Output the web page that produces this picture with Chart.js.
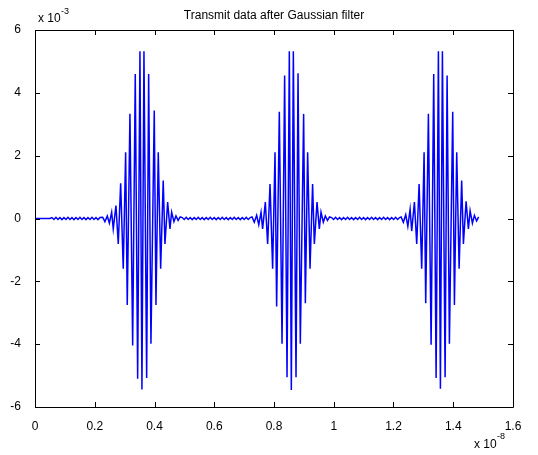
<!DOCTYPE html>
<html>
<head>
<meta charset="utf-8">
<script src="https://cdn.jsdelivr.net/npm/chart.js@4.4.0/dist/chart.umd.min.js"></script>
<style>
  body { margin: 0; background: #fff; }
  canvas { display: block; }
</style>
</head>
<body>
<canvas id="myChart" width="538" height="455"></canvas>
<script>
// 축 눈금 (x: x10^-8, y: x10^-3)
var xTicks = [0, 0.2, 0.4, 0.6, 0.8, 1, 1.2, 1.4, 1.6];
var yTicks = [-6, -4, -2, 0, 2, 4, 6];

// 각 펄스 중심 시각
var pulseCenters = [0.358, 0.858, 1.357];
// 펄스 중심 기준 극값 위치
var pulseOffsets = [-0.1315, -0.1240, -0.1160, -0.1090, -0.1014, -0.0961, -0.0870, -0.0793, -0.0713, -0.0626,
                    -0.0546, -0.0492, -0.0402, -0.0311, -0.0224, -0.0144, -0.0067, 0, 0.0067, 0.0157,
                    0.0224, 0.0301, 0.0412, 0.0469, 0.0546, 0.0626, 0.0712, 0.0770, 0.0860, 0.0937,
                    0.0994, 0.1071, 0.1138, 0.1210, 0.1280];
var pulse1 = [0.04, -0.10, 0.08, -0.15, 0.20, -0.33, 0.41, -0.81, 1.12, -1.60,
              2.11, -2.75, 3.33, -4.04, 4.60, -5.10, 5.32, -5.44, 5.32, -5.08,
              4.60, -3.99, 3.44, -2.75, 2.11, -1.60, 1.21, -0.81, 0.52, -0.33,
              0.20, -0.10, 0.08, -0.06, 0.05];
var pulse2 = [0.05, -0.12, 0.10, -0.20, 0.20, -0.33, 0.52, -0.81, 1.10, -1.60,
              2.11, -2.80, 3.40, -3.99, 4.55, -5.05, 5.32, -5.46, 5.32, -5.05,
              4.62, -3.99, 3.33, -2.70, 2.11, -1.60, 1.10, -0.81, 0.52, -0.33,
              0.20, -0.12, 0.08, -0.06, 0.05];
var pulse3 = [0.05, -0.12, 0.12, -0.25, 0.30, -0.40, 0.52, -0.81, 1.10, -1.60,
              2.11, -2.70, 3.33, -4.02, 4.60, -5.08, 5.32, -5.42, 5.32, -5.05,
              4.55, -3.99, 3.40, -2.75, 2.11, -1.60, 1.21, -0.81, 0.55, -0.33,
              0.25, -0.15, 0.10, -0.08, 0.05];
// 펄스 사이 잔물결
var rippleStart = 0.05;
var rippleStep = 0.0067;
var rippleValues = [0.03, -0.03, 0.04, -0.03, 0.03, -0.04, 0.03, -0.03, 0.04, -0.03,
                    0.03, -0.04, 0.03, -0.03, 0.04, -0.03, 0.03, -0.04, 0.03, -0.03,
                    0.04, -0.03, 0.03, -0.04, 0.03, -0.03, 0.04, -0.03, 0.03, -0.04,
                    0.03, -0.03, 0.04, -0.03, 0.03, -0.04, 0.03, -0.03];

// 데이터 점 만들기
var points = [{x: 0, y: 0}, {x: rippleStart, y: 0}];
var pulses = [pulse1, pulse2, pulse3];
var gapFrom = rippleStart;
for (var p = 0; p < pulses.length; p++) {
    var startP = pulseCenters[p] + pulseOffsets[0];
    for (var k = 0; k < rippleValues.length; k++) {
        var t = gapFrom + (k + 1) * rippleStep;
        if (t > startP - rippleStep * 0.6) break;
        points.push({x: t, y: rippleValues[k]});
    }
    for (var i = 0; i < pulseOffsets.length; i++) {
        points.push({x: pulseCenters[p] + pulseOffsets[i], y: pulses[p][i]});
    }
    gapFrom = pulseCenters[p] + pulseOffsets[pulseOffsets.length - 1];
}

var fontFam = '"Liberation Sans", Arial, sans-serif';

// MATLAB 스타일 테두리, 안쪽 눈금, 제목, 지수 표시
var matlabFrame = {
    id: 'matlabFrame',
    afterDraw: function(chart) {
        var ctx = chart.ctx;
        var a = chart.chartArea;
        var sx = chart.scales.x, sy = chart.scales.y;
        ctx.save();
        ctx.strokeStyle = '#000';
        ctx.lineWidth = 1;
        ctx.beginPath();
        ctx.rect(Math.round(a.left) + 0.5, Math.round(a.top) + 0.5,
                 Math.round(a.right - a.left), Math.round(a.bottom - a.top));
        xTicks.forEach(function(v) {
            var px = Math.round(sx.getPixelForValue(v)) + 0.5;
            ctx.moveTo(px, a.bottom); ctx.lineTo(px, a.bottom - 5);
            ctx.moveTo(px, a.top); ctx.lineTo(px, a.top + 5);
        });
        yTicks.forEach(function(v) {
            var py = Math.round(sy.getPixelForValue(v)) + 0.5;
            ctx.moveTo(a.left, py); ctx.lineTo(a.left + 5, py);
            ctx.moveTo(a.right, py); ctx.lineTo(a.right - 5, py);
        });
        ctx.stroke();

        ctx.fillStyle = '#000';
        ctx.textBaseline = 'alphabetic';
        ctx.textAlign = 'center';
        ctx.font = '12px ' + fontFam;
        ctx.fillText('Transmit data after Gaussian filter', (a.left + a.right) / 2, 19);

        ctx.textAlign = 'left';
        ctx.font = '12px ' + fontFam;
        ctx.fillText('x 10', 38, 22);
        ctx.font = '9px ' + fontFam;
        ctx.fillText('-3', 61, 14);

        ctx.font = '12px ' + fontFam;
        ctx.fillText('x 10', 474, 448);
        ctx.font = '9px ' + fontFam;
        ctx.fillText('-8', 497, 439);
        ctx.restore();
    }
};

var ctx = document.getElementById('myChart').getContext('2d');
var myChart = new Chart(ctx, {
    type: 'line',
    data: {
        datasets: [{
            label: 'Transmit data',
            data: points,
            borderColor: '#0000ff',
            borderWidth: 1.5,
            pointRadius: 0,
            tension: 0,
            fill: false
        }]
    },
    options: {
        responsive: false,
        animation: false,
        layout: { padding: { top: 30, right: 25, left: 0, bottom: 0 } },
        plugins: { legend: { display: false }, tooltip: { enabled: false }, title: { display: false } },
        scales: {
            x: {
                type: 'linear',
                min: 0, max: 1.6,
                afterFit: function(s) { s.height = 48; },
                afterBuildTicks: function(s) { s.ticks = xTicks.map(function(v) { return {value: v}; }); },
                grid: { display: false },
                border: { display: false },
                ticks: {
                    color: '#000', padding: 4, maxRotation: 0, autoSkip: false,
                    font: { family: fontFam, size: 12 },
                    callback: function(v) { return String(parseFloat(v.toFixed(1))); }
                }
            },
            y: {
                type: 'linear',
                min: -6, max: 6,
                afterFit: function(s) { s.width = 35; },
                afterBuildTicks: function(s) { s.ticks = yTicks.map(function(v) { return {value: v}; }); },
                grid: { display: false },
                border: { display: false },
                ticks: {
                    color: '#000', padding: 6, autoSkip: false,
                    font: { family: fontFam, size: 12 },
                    callback: function(v) { return String(v); }
                }
            }
        }
    },
    plugins: [matlabFrame]
});
</script>
</body>
</html>
